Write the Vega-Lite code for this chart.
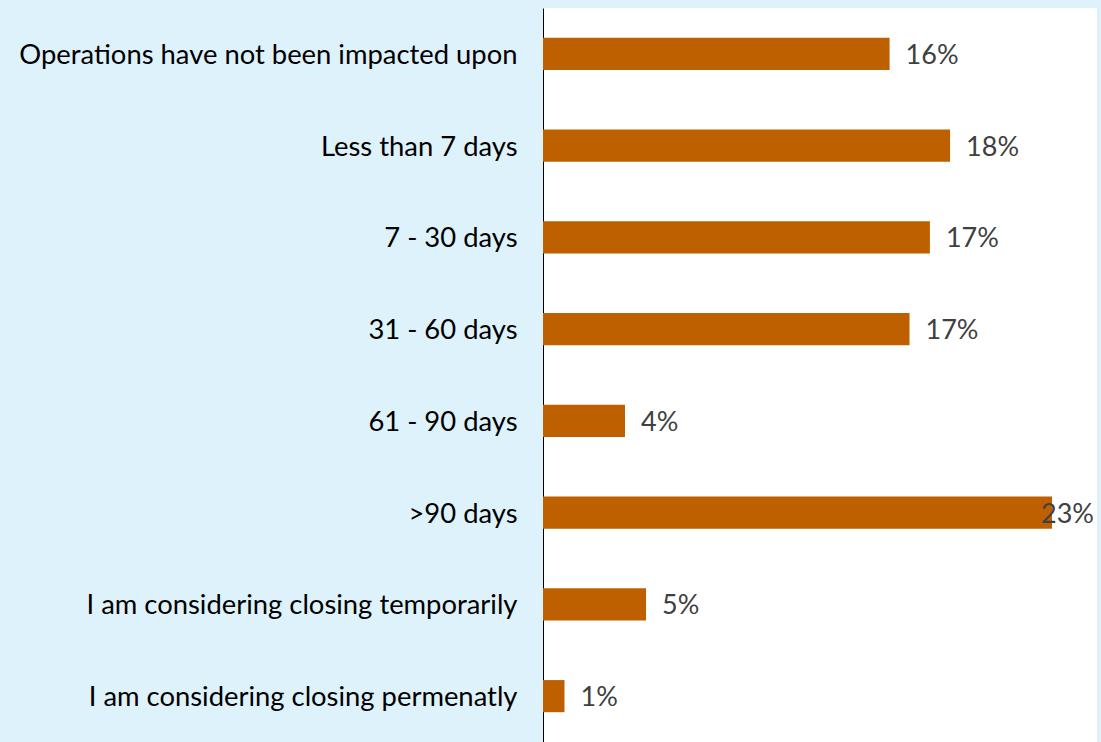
{
  "$schema": "https://vega.github.io/schema/vega-lite/v6.json",
  "width": 554,
  "height": 734,
  "autosize": {"type": "none"},
  "padding": {"left": 543, "top": 8, "right": 4, "bottom": 0},
  "background": "#DEF2FB",
  "config": {
    "view": {"stroke": null, "fill": "#FFFFFF"},
    "font": "Lato"
  },
  "data": {
    "values": [
      {"category": "Operations have not been impacted upon", "value": 0.1564},
      {"category": "Less than 7 days", "value": 0.1837},
      {"category": "7 - 30 days", "value": 0.1746},
      {"category": "31  - 60 days", "value": 0.1654},
      {"category": "61 - 90 days", "value": 0.0370},
      {"category": ">90 days", "value": 0.2297},
      {"category": "I am considering closing temporarily", "value": 0.0465},
      {"category": "I am considering closing permenatly", "value": 0.0097}
    ]
  },
  "encoding": {
    "y": {
      "field": "category",
      "type": "nominal",
      "sort": null,
      "scale": {"paddingInner": 0.65, "paddingOuter": 0.325},
      "axis": {
        "title": null,
        "ticks": false,
        "labelFontSize": 27.4,
        "labelColor": "#000000",
        "labelPadding": 26,
        "labelOffset": 2,
        "labelLimit": 0,
        "domainColor": "#000000",
        "domainWidth": 1,
        "grid": false
      }
    },
    "x": {
      "field": "value",
      "type": "quantitative",
      "scale": {"domain": [0, 0.25], "nice": false},
      "axis": null
    }
  },
  "layer": [
    {"mark": {"type": "bar", "color": "#BF6000"}},
    {
      "transform": [{"filter": "datum.value < 0.2"}],
      "mark": {"type": "text", "align": "left", "baseline": "middle", "dx": 16, "dy": 2, "fontSize": 27, "color": "#404040"},
      "encoding": {"text": {"field": "value", "type": "quantitative", "format": ".0%"}}
    },
    {
      "transform": [{"filter": "datum.value >= 0.2"}],
      "mark": {"type": "text", "align": "left", "baseline": "middle", "dx": -11, "dy": 2, "fontSize": 27, "color": "#404040"},
      "encoding": {"text": {"field": "value", "type": "quantitative", "format": ".0%"}}
    }
  ]
}
